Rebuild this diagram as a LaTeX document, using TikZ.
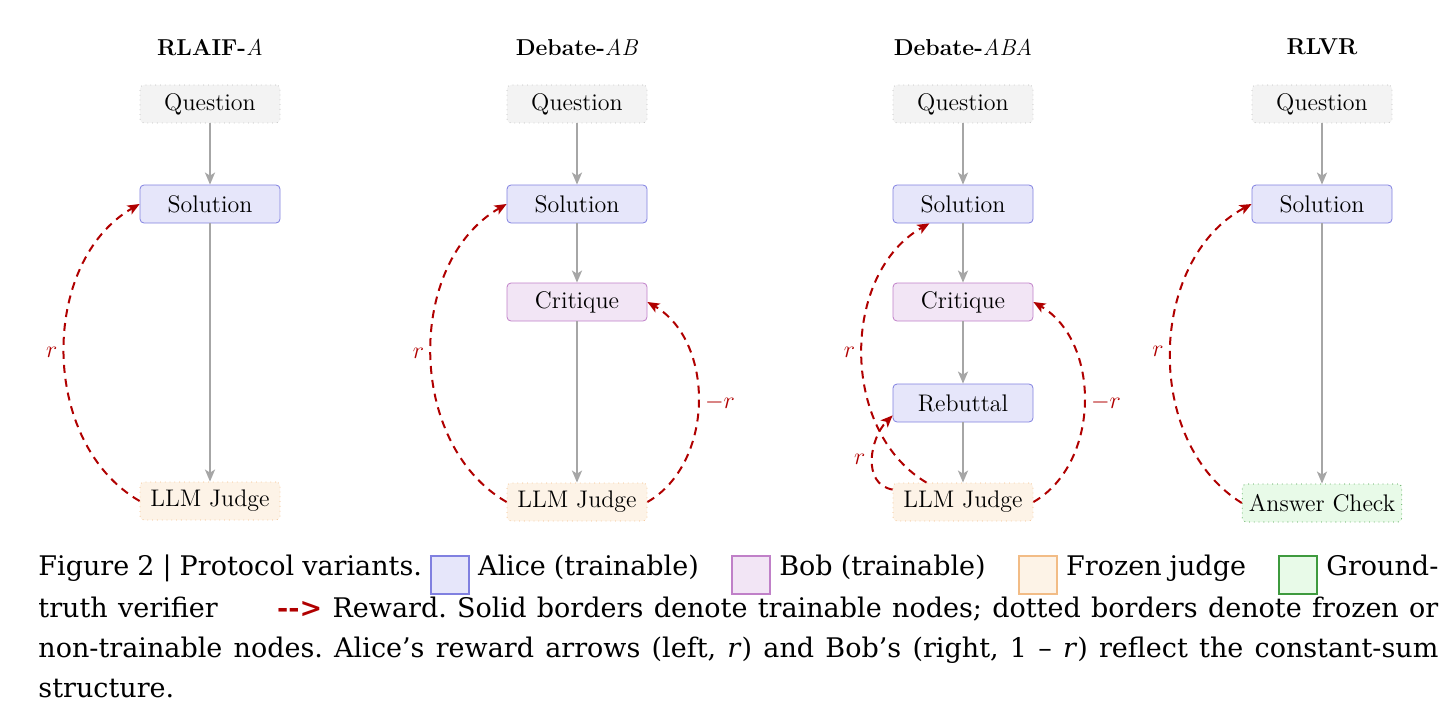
\documentclass[tikz,border=0pt]{standalone}
\usepackage{fontspec}
\usetikzlibrary{arrows.meta}
\newfontfamily\capfont{DejaVu Serif}[Ligatures=TeX]

\definecolor{alicefill}{HTML}{E6E6FA}
\definecolor{alicedraw}{HTML}{8080E0}
\definecolor{bobfill}{HTML}{F2E5F5}
\definecolor{bobdraw}{HTML}{C080C8}
\definecolor{judgefill}{HTML}{FDF3E7}
\definecolor{judgedraw}{HTML}{F2BC86}
\definecolor{checkfill}{HTML}{E8FAE8}
\definecolor{checkdraw}{HTML}{3E9A3E}
\definecolor{askfill}{HTML}{F3F3F3}
\definecolor{askdraw}{HTML}{BDBDBD}
\definecolor{flowgray}{HTML}{A6A6A6}
\definecolor{rewardred}{HTML}{B00000}

\newcommand{\legendbox}[2]{\raisebox{-9pt}{\setlength{\fboxsep}{0pt}\setlength{\fboxrule}{1pt}\fcolorbox{#1}{#2}{\rule{0pt}{18pt}\rule{18pt}{0pt}}}}

\begin{document}
\begin{tikzpicture}[x=0.5pt, y=0.5pt,
    box/.style={rounded corners=2pt, minimum width=70pt, minimum height=19pt,
      font=\fontsize{12}{14}\selectfont},
    ask/.style={box, draw=askdraw, dotted, fill=askfill},
    alice/.style={box, draw=alicedraw, fill=alicefill},
    bob/.style={box, draw=bobdraw, fill=bobfill},
    judge/.style={box, draw=judgedraw, dotted, fill=judgefill},
    check/.style={box, draw=checkdraw, dotted, fill=checkfill},
    title/.style={font=\fontsize{11.5}{13}\selectfont\bfseries},
    flow/.style={draw=flowgray, line width=1pt, -{Stealth[length=6pt, width=5pt, inset=1.5pt]}},
    reward/.style={draw=rewardred, line width=1pt, dash pattern=on 4pt off 3pt,
      -{Stealth[length=6pt, width=5pt, inset=1.5pt]}},
    rlabel/.style={text=rewardred, font=\fontsize{12}{14}\selectfont, inner sep=3pt}]

\useasboundingbox (0,0) rectangle (1456,-722);

% RLAIF-A
\node[title] (t1) at (210,-47) {RLAIF-\textit{\mdseries A}};
\node[ask] (q1) at (210,-104) {Question};
\node[alice] (s1) at (210,-204) {Solution};
\node[judge] (j1) at (210,-501) {LLM Judge};
\draw[flow] (q1) -- (s1);
\draw[flow] (s1) -- (j1);
\draw[reward] (j1.west) to[bend left=60] node[midway, left, rlabel] {$r$} (s1.west);

% Debate-AB
\node[title] (t2) at (577,-47) {Debate-\textit{\mdseries AB}};
\node[ask] (q2) at (577,-104) {Question};
\node[alice] (s2) at (577,-204) {Solution};
\node[bob] (c2) at (577,-302) {Critique};
\node[judge] (j2) at (577,-502) {LLM Judge};
\draw[flow] (q2) -- (s2);
\draw[flow] (s2) -- (c2);
\draw[flow] (c2) -- (j2);
\draw[reward] (j2.west) to[bend left=60] node[midway, left, rlabel] {$r$} (s2.west);
\draw[reward] (j2.east) to[bend right=60] node[midway, right, rlabel] {$-r$} (c2.east);

% Debate-ABA
\node[title] (t3) at (963,-47) {Debate-\textit{\mdseries ABA}};
\node[ask] (q3) at (963,-104) {Question};
\node[alice] (s3) at (963,-204) {Solution};
\node[bob] (c3) at (963,-302) {Critique};
\node[alice] (b3) at (963,-403) {Rebuttal};
\node[judge] (j3) at (963,-502) {LLM Judge};
\draw[flow] (q3) -- (s3);
\draw[flow] (s3) -- (c3);
\draw[flow] (c3) -- (b3);
\draw[flow] (b3) -- (j3);
\draw[reward] (j3.152) to[bend left=60] node[midway, left, rlabel] {$r$} (s3.210);
\draw[reward] (j3.170) to[out=170, in=225, looseness=1.1] node[midway, left, rlabel] {$r$} (b3.190);
\draw[reward] (j3.east) to[bend right=60] node[midway, right, rlabel] {$-r$} (c3.east);

% RLVR
\node[title] (t4) at (1322,-47) {RLVR};
\node[ask] (q4) at (1322,-104) {Question};
\node[alice] (s4) at (1322,-204) {Solution};
\node[check] (a4) at (1322,-503) {Answer Check};
\draw[flow] (q4) -- (s4);
\draw[flow] (s4) -- (a4);
\draw[reward] (a4.west) to[bend left=60] node[midway, left, rlabel] {$r$} (s4.west);

% caption
\node[anchor=north west, inner sep=0pt, text width=700pt, align=justify,
  font=\capfont\fontsize{13.5}{20}\selectfont] (cap) at (38,-554)
  {\frenchspacing\hyphenpenalty=10000 Figure 2 \textbar{} Protocol variants. \legendbox{alicedraw}{alicefill} Alice (trainable)\hspace{1.2em}\legendbox{bobdraw}{bobfill} Bob (trainable)\hspace{1.2em}\legendbox{judgedraw}{judgefill} Frozen judge\hspace{1.2em}\legendbox{checkdraw}{checkfill} Ground-\linebreak
  truth verifier\hspace{2.2em}{\color{rewardred}\bfseries -{}->} Reward. Solid borders denote trainable nodes; dotted borders denote frozen or\linebreak
  non-trainable nodes. Alice's reward arrows (left, \textit{r}) and Bob's (right, 1 -- \textit{r}) reflect the constant-sum\linebreak
  structure.};

\end{tikzpicture}
\end{document}
